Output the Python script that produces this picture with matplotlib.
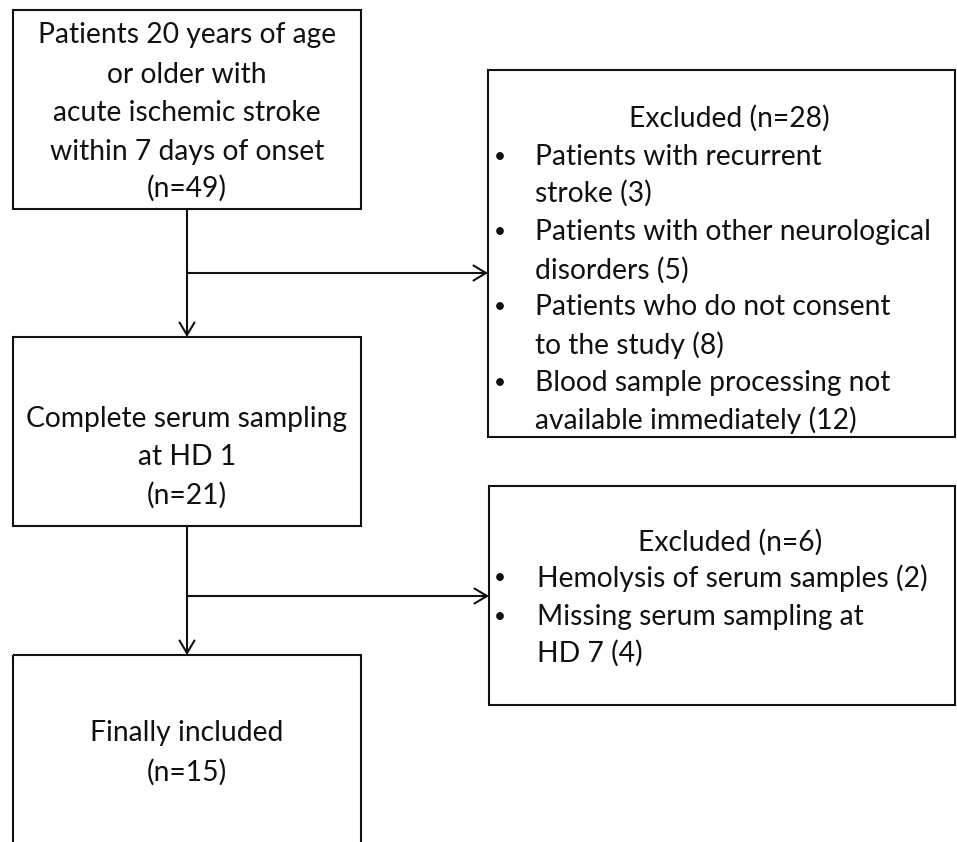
import matplotlib
matplotlib.use("Agg")
import matplotlib.pyplot as plt
from matplotlib.patches import Rectangle

plt.rcParams['font.family'] = ['Lato', 'DejaVu Sans']

# flow counts
n_total = 49
n_hd1 = 21
n_final = 15

# first exclusion step
excl1_n = 28
excl1_lines = [("Patients with recurrent", True), ("stroke (3)", False),
               ("Patients with other neurological", True), ("disorders (5)", False),
               ("Patients who do not consent", True), ("to the study (8)", False),
               ("Blood sample processing not", True), ("available immediately (12)", False)]

# second exclusion step
excl2_n = 6
excl2_lines = [("Hemolysis of serum samples (2)", True),
               ("Missing serum sampling at", True), ("HD 7 (4)", False)]

box1_text = ["Patients 20 years of age", "or older with", "acute ischemic stroke",
             "within 7 days of onset", "(n=%d)" % n_total]
box3_text = ["Complete serum sampling", "at HD 1", "(n=%d)" % n_hd1]
box5_text = ["Finally included", "(n=%d)" % n_final]

fig = plt.figure(figsize=(9.57, 8.42), dpi=100)
ax = fig.add_axes([0, 0, 1, 1])
ax.set_xlim(0, 957)
ax.set_ylim(842, 0)
ax.axis('off')

fs = 20.3
lw = 1.5
col = '#111111'

def box(x0, y0, x1, y1):
    ax.add_patch(Rectangle((x0, y0), x1 - x0, y1 - y0, fill=False, lw=lw, ec=col))

def arrow(x0, y0, x1, y1):
    ax.annotate('', xy=(x1, y1), xytext=(x0, y0),
                arrowprops=dict(arrowstyle='->,head_length=0.5,head_width=0.3', lw=lw,
                                color=col, shrinkA=0, shrinkB=0, mutation_scale=18))

def centered(lines, cx, ys):
    for t, y in zip(lines, ys):
        ax.text(cx, y, t, ha='center', va='center', fontsize=fs, color=col)

def bullets(lines, ys, xb, xt):
    for (t, b), y in zip(lines, ys):
        if b:
            ax.text(xb, y, u'\u2022', ha='center', va='center', fontsize=15, color=col)
        ax.text(xt, y, t, ha='left', va='center', fontsize=fs, color=col)

# left column boxes
box(13, 10, 361, 209)
centered(box1_text, 187, [35, 75, 113, 152, 188])
box(13, 337, 361, 526)
centered(box3_text, 187, [419, 457, 495])
box(13, 655, 361, 860)
centered(box5_text, 187, [733, 772])

# right column boxes
box(488, 70, 955, 437)
ax.text(729, 118, "Excluded (n=%d)" % excl1_n, ha='center', va='center', fontsize=fs, color=col)
bullets(excl1_lines, [157, 193, 232, 270, 307, 345, 383, 420], 500, 535)

box(489, 486, 955, 705)
ax.text(730, 542, "Excluded (n=%d)" % excl2_n, ha='center', va='center', fontsize=fs, color=col)
bullets(excl2_lines, [578, 617, 653], 500, 537)

# connectors
arrow(187, 209, 187, 337)
arrow(187, 273, 488, 273)
arrow(187, 526, 187, 655)
arrow(187, 596, 489, 596)

fig.savefig("out.png", dpi=100)
